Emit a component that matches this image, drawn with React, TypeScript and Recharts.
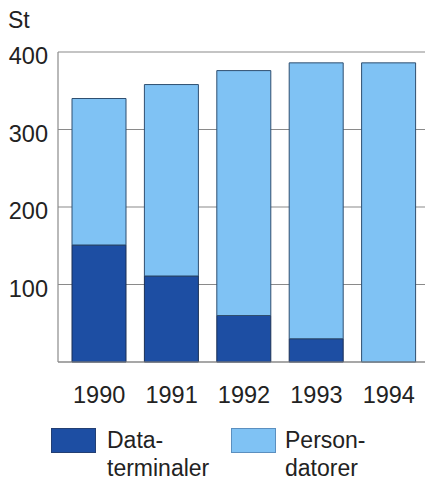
import React from 'react';
import { BarChart, Bar, XAxis, YAxis, CartesianGrid } from 'recharts';

const years = ['1990', '1991', '1992', '1993', '1994'];
const dataterminaler = [151, 111, 60, 30, 0];
const persondatorer = [189, 247, 316, 356, 386];
const yTicks = [0, 100, 200, 300, 400];

const DARK = '#1d4ea3';
const LIGHT = '#7fc2f4';
const FONT = 'Liberation Sans, Arial, sans-serif';

const chartData = years.map((year, i) => ({
  year,
  Dataterminaler: dataterminaler[i],
  Persondatorer: persondatorer[i],
}));

const LegendBox = () => (
  <div style={{ position: 'absolute', left: 0, top: 428, width: 425, height: 53, fontFamily: FONT, fontSize: 23, color: '#222' }}>
    <div style={{ position: 'absolute', left: 51, top: 0, width: 43, height: 23, background: DARK, border: '1px solid #233f73' }} />
    <div style={{ position: 'absolute', left: 107, top: -2, lineHeight: '28px', textAlign: 'left' }}>
      Data-<br />terminaler
    </div>
    <div style={{ position: 'absolute', left: 231, top: 0, width: 43, height: 23, background: LIGHT, border: '1px solid #5b8fbf' }} />
    <div style={{ position: 'absolute', left: 285, top: -2, lineHeight: '28px', textAlign: 'left' }}>
      Person-<br />datorer
    </div>
  </div>
);

export default function App() {
  return (
    <div style={{ position: 'absolute', left: 0, top: 0, width: 425, height: 481, background: '#fff', overflow: 'hidden' }}>
      <div style={{ position: 'absolute', left: 8, top: 7, fontFamily: FONT, fontSize: 23, color: '#222', lineHeight: '26px' }}>
        St
      </div>
      <BarChart
        width={425}
        height={481}
        data={chartData}
        margin={{ top: 52, right: 0, bottom: 69, left: 0 }}
        barCategoryGap={9}
      >
        <CartesianGrid vertical={false} stroke="#8a8a8a" strokeWidth={1.2} />
        <XAxis
          dataKey="year"
          height={50}
          tickLine={false}
          tickSize={0}
          tickMargin={24}
          axisLine={{ stroke: '#8a8a8a', strokeWidth: 1.2 }}
          padding={{ left: 5, right: 0 }}
          tick={{ fontFamily: FONT, fontSize: 23.5, fill: '#222' }}
        />
        <YAxis
          width={58}
          domain={[0, 400]}
          ticks={yTicks}
          tickFormatter={(v: number) => (v === 0 ? '' : String(v))}
          tickLine={false}
          tickSize={0}
          tickMargin={10}
          axisLine={{ stroke: '#8a8a8a', strokeWidth: 1.2 }}
          tick={{ fontFamily: FONT, fontSize: 23.5, fill: '#222', dy: 4 }}
        />
        <Bar dataKey="Dataterminaler" stackId="a" fill={DARK} stroke="#1a2f55" strokeWidth={1} isAnimationActive={false} />
        <Bar dataKey="Persondatorer" stackId="a" fill={LIGHT} stroke="#2f4f70" strokeWidth={1} isAnimationActive={false} />
      </BarChart>
      <LegendBox />
    </div>
  );
}
